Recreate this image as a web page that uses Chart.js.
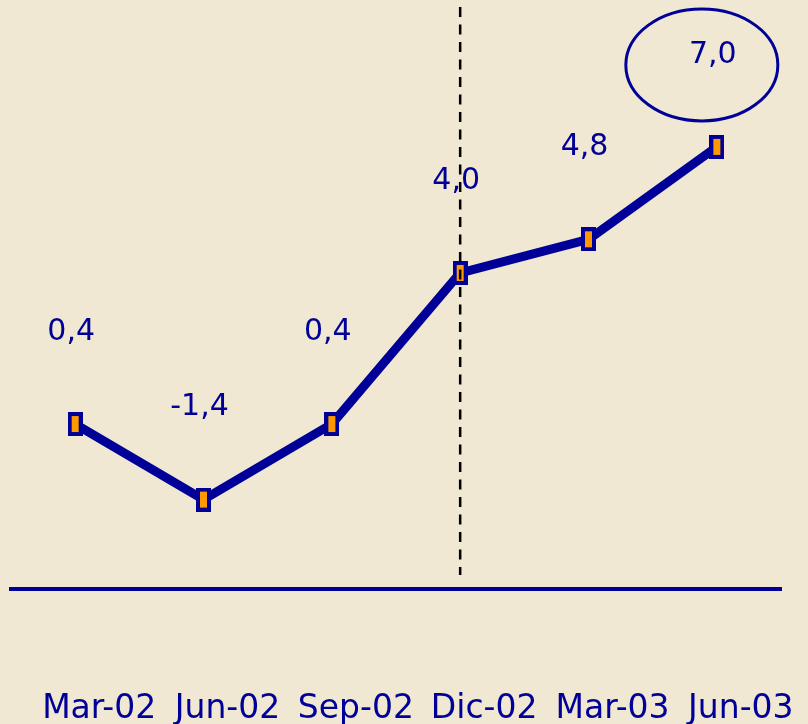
<!DOCTYPE html>
<html>
<head>
<meta charset="utf-8">
<script src="https://cdn.jsdelivr.net/npm/chart.js@4/dist/chart.umd.min.js"></script>
<style>
  html, body { margin: 0; padding: 0; background: #F0E8D2; }
  #wrap { width: 808px; height: 724px; }
</style>
</head>
<body>
<div id="wrap"><canvas id="chart" width="808" height="724"></canvas></div>
<script>
const quarters = ['Mar-02', 'Jun-02', 'Sep-02', 'Dic-02', 'Mar-03', 'Jun-03'];
const growth = [0.4, -1.4, 0.4, 4.0, 4.8, 7.0];
const growthLabels = ['0,4', '-1,4', '0,4', '4,0', '4,8', '7,0'];
const markedQuarter = 'Dic-02';
const circledIndex = 5;

const blue = '#000099';

// orange bar marker with blue border
function makeMarker() {
    const c = document.createElement('canvas');
    c.width = 15;
    c.height = 24;
    const g = c.getContext('2d');
    g.fillStyle = blue;
    g.fillRect(0, 0, 15, 24);
    g.fillStyle = '#FF9900';
    g.fillRect(4, 4, 7, 16);
    return c;
}

const extras = {
    id: 'extras',
    afterDatasetsDraw(chart) {
        const ctx = chart.ctx;
        const area = chart.chartArea;
        const x = chart.scales.x;
        const meta = chart.getDatasetMeta(0);

        // dashed vertical marker
        const dx = x.getPixelForValue(quarters.indexOf(markedQuarter));
        ctx.save();
        ctx.strokeStyle = '#000000';
        ctx.lineWidth = 2.5;
        ctx.setLineDash([10, 7.5]);
        ctx.beginPath();
        ctx.moveTo(dx, area.top + 7);
        ctx.lineTo(dx, area.bottom - 14);
        ctx.stroke();
        ctx.restore();

        // value labels
        ctx.save();
        ctx.fillStyle = blue;
        ctx.font = '30px "DejaVu Sans"';
        ctx.textAlign = 'center';
        ctx.textBaseline = 'middle';
        meta.data.forEach((pt, i) => {
            ctx.fillText(growthLabels[i], pt.x - 4, pt.y - 92);
        });

        // ellipse round the last value
        const last = meta.data[circledIndex];
        ctx.strokeStyle = blue;
        ctx.lineWidth = 3;
        ctx.beginPath();
        ctx.ellipse(last.x - 15, last.y - 82, 76, 56, 0, 0, Math.PI * 2);
        ctx.stroke();
        ctx.restore();
    }
};

new Chart(document.getElementById('chart'), {
    type: 'line',
    data: {
        labels: quarters,
        datasets: [{
            data: growth,
            borderColor: blue,
            borderWidth: 9,
            tension: 0,
            pointStyle: makeMarker(),
            pointRadius: 8,
            fill: false
        }]
    },
    options: {
        responsive: false,
        animation: false,
        layout: { autoPadding: false, padding: { left: 11, right: 27, top: 0, bottom: 0 } },
        scales: {
            x: {
                offset: true,
                grid: { display: false, drawTicks: false },
                border: { display: true, color: blue, width: 4 },
                ticks: {
                    color: blue,
                    font: { family: 'DejaVu Sans', size: 33, lineHeight: 1 },
                    padding: 104,
                    labelOffset: 24,
                    maxRotation: 0,
                    autoSkip: false
                },
                afterFit(scale) {
                    scale.height = 135;
                    scale.paddingLeft = 0;
                    scale.paddingRight = 0;
                    scale.paddingTop = 0;
                    scale.paddingBottom = 0;
                }
            },
            y: {
                display: false,
                min: -3.53,
                max: 10.5
            }
        },
        plugins: {
            legend: { display: false },
            tooltip: { enabled: false }
        }
    },
    plugins: [extras]
});
</script>
</body>
</html>
